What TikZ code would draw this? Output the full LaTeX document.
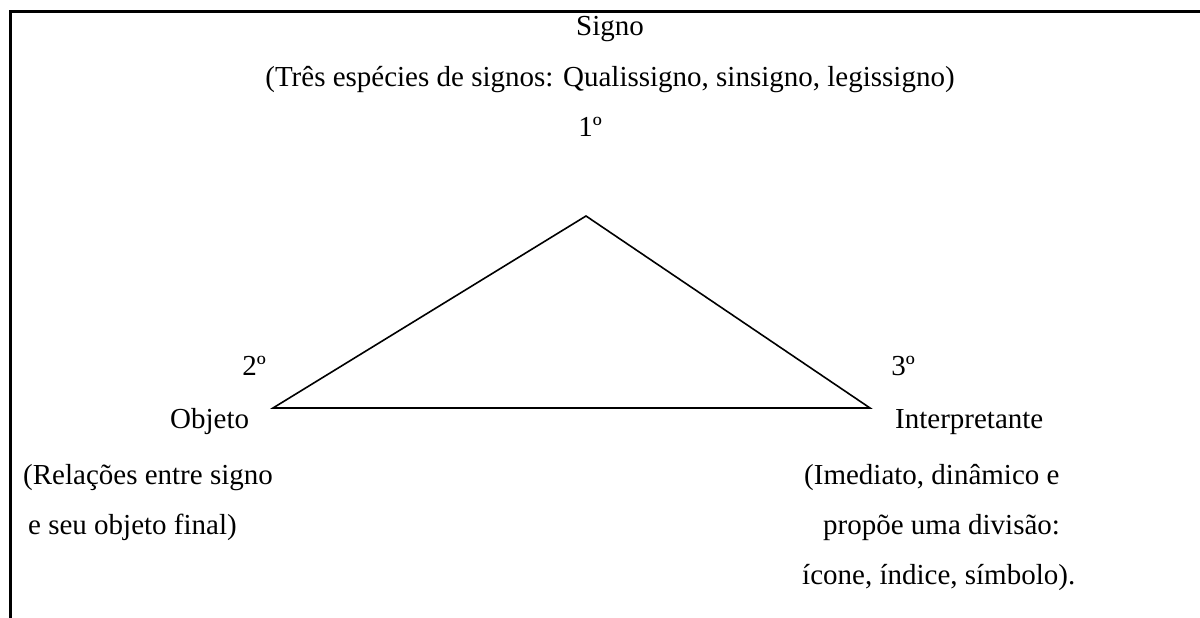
\documentclass[tikz,border=0pt]{standalone}
\usepackage{fontspec}
\setmainfont{Liberation Serif}
\usetikzlibrary{calc}

\begin{document}
\begin{tikzpicture}[x=1pt,y=-1pt,
 lbl/.style={anchor=base,inner sep=0pt,font=\fontsize{29}{34}\selectfont},
 lft/.style={lbl,anchor=base west}]

 \useasboundingbox (0,0) rectangle (1200,618);

 % frame, open at right and bottom
 \draw[line width=3pt] (10,618) -- (10,11.5) -- (1200,11.5);

 % the three corners
 \coordinate (first)  at (586,216);
 \coordinate (second) at (273,408);
 \coordinate (third)  at (870,408);
 \draw[line width=1.6pt] (first) -- (second) -- (third) -- cycle;

 \node[lbl] (signo) at (610,36) {Signo};
 \node[lbl] (especies) at (610,86) {(Três espécies de signos: Qualissigno, sinsigno, legissigno)};
 \node[lbl] (um) at (590,136) {1º};

 \node[lbl] (dois) at (254,375) {2º};
 \node[lft] (objeto) at (170,428) {Objeto};
 \node[lft] (objA) at (23,484) {(Relações entre signo};
 \node[lft] (objB) at (28,534) {e seu objeto final)};

 \node[lbl] (tres) at (903,375) {3º};
 \node[lft] (interp) at (895,428) {Interpretante};
 \node[lft] (intA) at (804,484) {(Imediato, dinâmico e};
 \node[lft] (intB) at (823,534) {propõe uma divisão:};
 \node[lft] (intC) at (802,584) {ícone, índice, símbolo).};

\end{tikzpicture}
\end{document}
